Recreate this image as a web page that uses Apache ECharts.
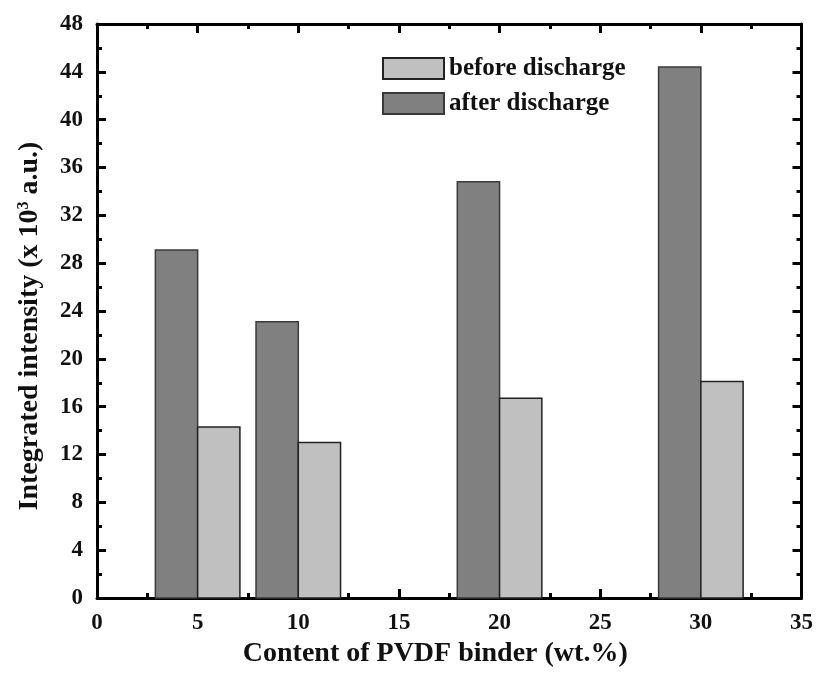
<!DOCTYPE html>
<html>
<head>
<meta charset="utf-8">
<script src="https://cdn.jsdelivr.net/npm/echarts@6/dist/echarts.min.js"></script>
<style>html,body{margin:0;padding:0;background:#fff;}#c{width:816px;height:675px;}</style>
</head>
<body>
<div id="c"></div>
<script>
var contents = [5, 10, 20, 30];
var beforeDischarge = [14.3, 13.0, 16.7, 18.1];
var afterDischarge = [29.1, 23.1, 34.8, 44.4];
var xTicks = [0, 5, 10, 15, 20, 25, 30, 35];
var yTicks = [0, 4, 8, 12, 16, 20, 24, 28, 32, 36, 40, 44, 48];

var BAR_W = 2.1;
var FONT = '"Liberation Serif", "Times New Roman", serif';

function makeRender(side) {
  return function (params, api) {
    var x = api.value(0), v = api.value(1);
    var x0 = side < 0 ? x - BAR_W : x;
    var x1 = side < 0 ? x : x + BAR_W;
    var p0 = api.coord([x0, 0]);
    var p1 = api.coord([x1, v]);
    return {
      type: 'rect',
      shape: { x: p0[0], y: p1[1], width: p1[0] - p0[0], height: p0[1] - p1[1] },
      style: api.style()
    };
  };
}

var chart = echarts.init(document.getElementById('c'), null, { renderer: 'canvas' });
function axisLine() { return { show: true, onZero: false, lineStyle: { color: '#000', width: 3 } }; }
function tick() { return { show: true, inside: true, length: 9, lineStyle: { width: 3, color: '#000' } }; }
function minor() { return { show: true, splitNumber: 2, length: 5, lineStyle: { width: 3, color: '#000' } }; }
var labelStyle = { fontFamily: FONT, fontWeight: 'bold', fontSize: 23, color: '#111' };

chart.setOption({
  backgroundColor: '#fff',
  animation: false,
  grid: { left: 97, right: 14, top: 24, bottom: 77 },
  legend: {
    data: ['before discharge', 'after discharge'],
    orient: 'vertical',
    left: 377, top: 51,
    itemWidth: 61, itemHeight: 21, itemGap: 10,
    icon: 'rect',
    textStyle: { fontFamily: FONT, fontWeight: 'bold', fontSize: 25, color: '#111' }
  },
  xAxis: [{
    type: 'value', min: xTicks[0], max: xTicks[xTicks.length - 1], interval: 5,
    position: 'bottom',
    name: 'Content of PVDF binder (wt.%)', nameLocation: 'middle', nameGap: 42,
    nameTextStyle: { fontFamily: FONT, fontWeight: 'bold', fontSize: 28, color: '#111', padding: [0, 28, 0, 0] },
    axisLine: axisLine(), axisTick: tick(), minorTick: minor(),
    splitLine: { show: false },
    axisLabel: Object.assign({ margin: 14 }, labelStyle)
  }, {
    type: 'value', min: xTicks[0], max: xTicks[xTicks.length - 1], interval: 5,
    position: 'top',
    axisLine: axisLine(), axisTick: tick(), minorTick: minor(),
    splitLine: { show: false },
    axisLabel: { show: false }
  }],
  yAxis: [{
    type: 'value', min: yTicks[0], max: yTicks[yTicks.length - 1], interval: 4,
    position: 'left',
    name: 'Integrated intensity (x 10{sup|3} a.u.)', nameLocation: 'middle', nameGap: 53,
    nameTextStyle: {
      fontFamily: FONT, fontWeight: 'bold', fontSize: 28, color: '#111',
      padding: [0, 30, 0, 0],
      rich: { sup: { fontFamily: FONT, fontWeight: 'bold', fontSize: 16, color: '#111', verticalAlign: 'top', padding: [0, 0, 10, 0] } }
    },
    axisLine: axisLine(), axisTick: tick(), minorTick: minor(),
    splitLine: { show: false },
    axisLabel: Object.assign({ margin: 14 }, labelStyle)
  }, {
    type: 'value', min: yTicks[0], max: yTicks[yTicks.length - 1], interval: 4,
    position: 'right',
    axisLine: axisLine(), axisTick: tick(), minorTick: minor(),
    splitLine: { show: false },
    axisLabel: { show: false }
  }],
  series: [{
    name: 'after discharge', type: 'custom', xAxisIndex: 0, yAxisIndex: 0,
    renderItem: makeRender(-1),
    itemStyle: { color: '#808080', borderColor: '#3a3a3a', borderWidth: 1.5 },
    data: contents.map(function (c, i) { return [c, afterDischarge[i]]; }),
    z: 1
  }, {
    name: 'before discharge', type: 'custom', xAxisIndex: 0, yAxisIndex: 0,
    renderItem: makeRender(1),
    itemStyle: { color: '#c0c0c0', borderColor: '#222', borderWidth: 1.5 },
    data: contents.map(function (c, i) { return [c, beforeDischarge[i]]; }),
    z: 1
  }]
});
</script>
</body>
</html>
